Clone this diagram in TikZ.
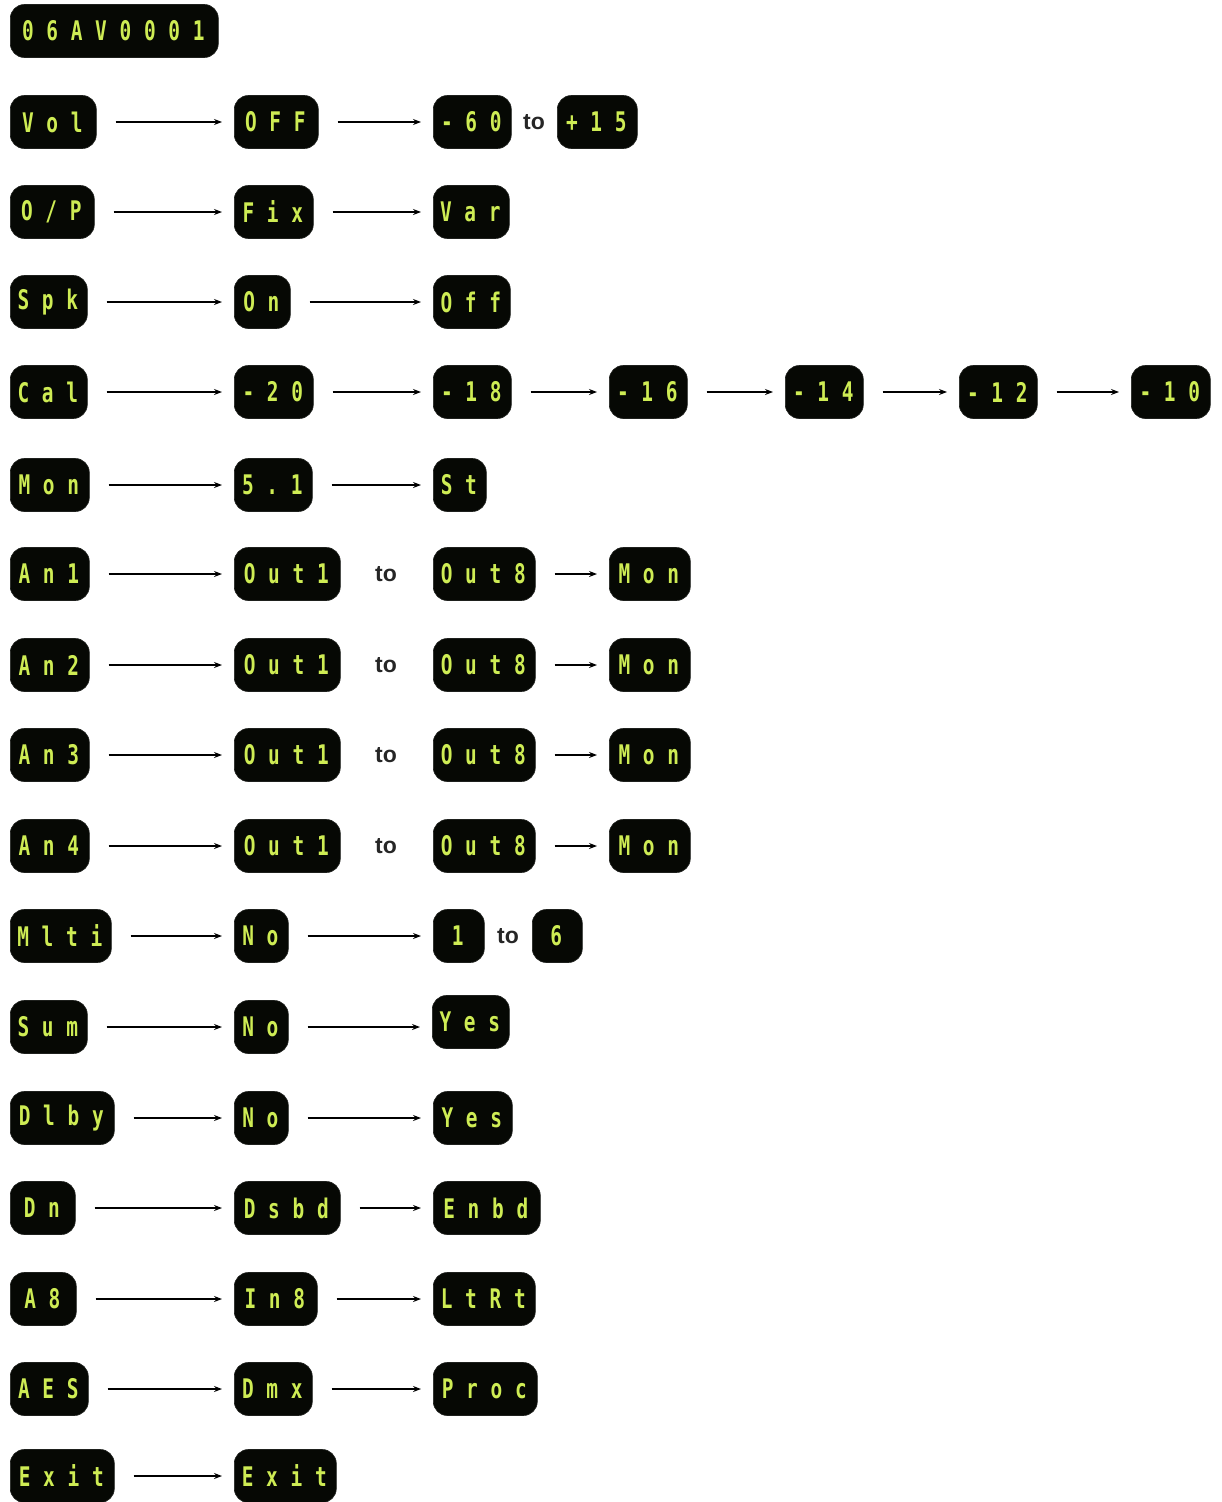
\documentclass[tikz,border=0pt]{standalone}
\usepackage{fontspec}
\usetikzlibrary{arrows.meta}
\newfontfamily\ledfont[FakeStretch=0.72,LetterSpace=47]{DejaVu Sans Mono Bold}
\newfontfamily\tofont{Liberation Sans Bold}
\definecolor{ledgreen}{RGB}{206,236,84}
\definecolor{ledbg}{RGB}{6,8,4}
\tikzset{
  lcd/.style={fill=ledbg, draw=ledbg!80!gray, line width=0.6pt, rounded corners=14pt,
    minimum height=53pt, inner sep=0pt, anchor=west, text=ledgreen,
    font=\ledfont\fontsize{27}{27}\selectfont},
  tolbl/.style={inner sep=0pt, font=\tofont\fontsize{23}{23}\selectfont, text=black!85},
  conn/.style={draw=black, line width=1.2pt, -{Stealth[length=8pt,width=6pt]},
    shorten <=19pt, shorten >=12pt}
}
\newcommand\lcdbox[5]{\node[lcd,minimum width=#4pt] (#1) at (#2,#3) {\hspace*{-2pt}#5};}
\newcommand\conn[2]{\draw[conn] (#1.east) -- (#2.west |- #1.east);}
\begin{document}
\begin{tikzpicture}[x=1pt,y=-1pt]
\useasboundingbox (0,0) rectangle (1221,1502);
% row 0
\lcdbox{ver}{10}{31}{208}{06AV0001}
% Vol
\lcdbox{vol}{10}{122}{86}{Vol}
\lcdbox{voloff}{234}{122}{84}{OFF}
\lcdbox{volmin}{433}{122}{78}{-60}
\node[tolbl] (volto) at (534,122) {to};
\lcdbox{volmax}{557}{122}{80}{+15}
\conn{vol}{voloff}\conn{voloff}{volmin}
% O/P
\lcdbox{op}{10}{212}{84}{O/P}
\lcdbox{opfix}{234}{212}{79}{Fix}
\lcdbox{opvar}{433}{212}{76}{Var}
\conn{op}{opfix}\conn{opfix}{opvar}
% Spk
\lcdbox{spk}{10}{302}{77}{Spk}
\lcdbox{spkon}{234}{302}{56}{On}
\lcdbox{spkoff}{433}{302}{77}{Off}
\conn{spk}{spkon}\conn{spkon}{spkoff}
% Cal
\lcdbox{cal}{10}{392}{77}{Cal}
\lcdbox{cala}{234}{392}{79}{-20}
\lcdbox{calb}{433}{392}{78}{-18}
\lcdbox{calc}{609}{392}{78}{-16}
\lcdbox{cald}{785}{392}{78}{-14}
\lcdbox{cale}{959}{392}{78}{-12}
\lcdbox{calf}{1131}{392}{79}{-10}
\conn{cal}{cala}\conn{cala}{calb}\conn{calb}{calc}\conn{calc}{cald}\conn{cald}{cale}\conn{cale}{calf}
% Mon
\lcdbox{mon}{10}{485}{79}{Mon}
\lcdbox{monfive}{234}{485}{78}{5.1}
\lcdbox{monst}{433}{485}{53}{St}
\conn{mon}{monfive}\conn{monfive}{monst}
% An1..An4
\foreach \n/\yy in {1/574,2/665,3/755,4/846}{
  \lcdbox{an\n}{10}{\yy}{79}{An\n}
  \lcdbox{an\n a}{234}{\yy}{106}{Out1}
  \node[tolbl] (an\n to) at (386,\yy) {to};
  \lcdbox{an\n b}{433}{\yy}{102}{Out8}
  \lcdbox{an\n c}{609}{\yy}{81}{Mon}
  \conn{an\n}{an\n a}\conn{an\n b}{an\n c}
}
% Mlti
\lcdbox{mlti}{10}{936}{101}{Mlti}
\lcdbox{mltino}{234}{936}{54}{No}
\lcdbox{mltione}{433}{936}{51}{1}
\node[tolbl] (mltito) at (508,936) {to};
\lcdbox{mltisix}{532}{936}{50}{6}
\conn{mlti}{mltino}\conn{mltino}{mltione}
% Sum
\lcdbox{sum}{10}{1027}{77}{Sum}
\lcdbox{sumno}{234}{1027}{54}{No}
\lcdbox{sumyes}{432}{1022}{77}{Yes}
\conn{sum}{sumno}\conn{sumno}{sumyes}
% Dlby
\lcdbox{dlby}{10}{1118}{104}{Dlby}
\lcdbox{dlbyno}{234}{1118}{54}{No}
\lcdbox{dlbyyes}{433}{1118}{79}{Yes}
\conn{dlby}{dlbyno}\conn{dlbyno}{dlbyyes}
% Dn
\lcdbox{dn}{10}{1208}{65}{Dn}
\lcdbox{dnds}{234}{1208}{106}{Dsbd}
\lcdbox{dnen}{433}{1208}{107}{Enbd}
\conn{dn}{dnds}\conn{dnds}{dnen}
% A8
\lcdbox{aeight}{10}{1299}{66}{A8}
\lcdbox{aein}{234}{1299}{83}{In8}
\lcdbox{aelt}{433}{1299}{102}{LtRt}
\conn{aeight}{aein}\conn{aein}{aelt}
% AES
\lcdbox{aes}{10}{1389}{78}{AES}
\lcdbox{aesdmx}{234}{1389}{78}{Dmx}
\lcdbox{aesproc}{433}{1389}{104}{Proc}
\conn{aes}{aesdmx}\conn{aesdmx}{aesproc}
% Exit
\lcdbox{exit}{10}{1476}{104}{Exit}
\lcdbox{exitb}{234}{1476}{102}{Exit}
\conn{exit}{exitb}
\end{tikzpicture}
\end{document}
